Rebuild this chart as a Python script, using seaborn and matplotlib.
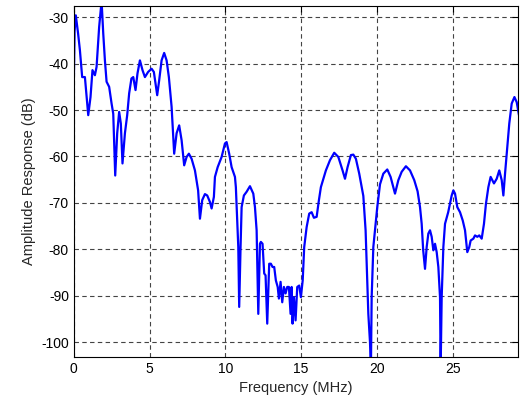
import seaborn as sns
import matplotlib.pyplot as plt
import pandas as pd

# frequency (MHz) and amplitude response (dB)
freq = [0.0, 0.05, 0.13, 0.28, 0.4, 0.55, 0.73, 0.95, 1.1, 1.23, 1.39, 1.5, 1.67, 1.83,
        1.94, 2.05, 2.16, 2.33, 2.49, 2.6, 2.73, 2.86, 2.99, 3.1, 3.21, 3.37, 3.52, 3.65,
        3.8, 3.92, 4.07, 4.2, 4.36, 4.53, 4.69, 4.9, 5.13, 5.28, 5.5, 5.63, 5.79, 5.96,
        6.12, 6.27, 6.45, 6.62, 6.78, 6.95, 7.11, 7.28, 7.44, 7.59, 7.77, 7.99, 8.2, 8.32,
        8.47, 8.65, 8.8, 8.98, 9.09, 9.24, 9.31, 9.49, 9.75, 9.97, 10.08, 10.25, 10.41,
        10.63, 10.69, 10.85, 10.91, 11.0, 11.07, 11.22, 11.4, 11.62, 11.84, 11.95, 12.06,
        12.17, 12.28, 12.34, 12.45, 12.56, 12.65, 12.76, 12.89, 13.0, 13.11, 13.22, 13.33,
        13.45, 13.53, 13.64, 13.75, 13.86, 13.97, 14.08, 14.19, 14.3, 14.37, 14.43, 14.52,
        14.63, 14.74, 14.87, 14.98, 15.1, 15.2, 15.36, 15.53, 15.69, 15.84, 16.02, 16.17,
        16.3, 16.63, 16.9, 17.18, 17.45, 17.73, 17.89, 18.06, 18.28, 18.44, 18.61, 18.83,
        19.1, 19.25, 19.43, 19.54, 19.6, 19.65, 19.76, 19.87, 20.02, 20.2, 20.42, 20.68,
        20.9, 21.19, 21.41, 21.63, 21.91, 22.18, 22.46, 22.68, 22.84, 22.95, 23.05, 23.17,
        23.28, 23.39, 23.5, 23.61, 23.72, 23.83, 23.94, 24.05, 24.16, 24.2, 24.27, 24.38,
        24.49, 24.7, 24.93, 25.04, 25.15, 25.3, 25.48, 25.66, 25.81, 25.96, 26.09, 26.18,
        26.36, 26.47, 26.62, 26.75, 26.91, 27.06, 27.19, 27.35, 27.5, 27.72, 27.9, 28.07,
        28.23, 28.34, 28.45, 28.56, 28.73, 28.89, 29.07, 29.22, 29.37]
amp = [-43.6, -33.0, -29.6, -33.5, -37.1, -42.9, -42.9, -51.1, -47.2, -41.4, -42.5, -40.7,
       -32.1, -26.5, -33.5, -39.3, -43.9, -45.0, -48.6, -50.8, -64.1, -55.0, -50.4, -52.9,
       -61.5, -55.0, -51.1, -46.4, -43.2, -42.9, -45.7, -42.1, -39.3, -41.4, -42.9, -41.8,
       -41.1, -41.8, -46.8, -43.6, -39.3, -37.7, -39.3, -42.9, -49.3, -59.4, -55.0, -53.3,
       -56.5, -61.9, -60.1, -59.4, -60.5, -63.0, -67.3, -73.4, -69.4, -68.1, -68.4, -69.8,
       -71.2, -68.7, -64.4, -62.3, -60.1, -57.2, -56.9, -59.4, -62.3, -64.4, -66.6, -79.5,
       -92.4, -79.5, -70.9, -68.4, -67.6, -66.4, -68.0, -70.9, -75.9, -93.9, -78.8, -78.4,
       -78.8, -85.2, -85.6, -96.0, -83.1, -83.1, -83.8, -83.8, -86.7, -88.1, -90.6, -87.0,
       -91.4, -88.1, -89.5, -88.1, -88.1, -93.9, -88.1, -96.0, -90.3, -95.3, -88.1, -87.8,
       -90.3, -86.7, -79.5, -75.2, -72.3, -72.0, -73.2, -73.0, -69.4, -66.6, -63.0, -60.8,
       -59.2, -60.1, -63.0, -64.8, -62.3, -59.7, -59.6, -60.5, -63.7, -68.5, -75.9, -93.9,
       -100.0, -106.0, -90.3, -79.5, -75.9, -70.9, -66.0, -63.7, -62.8, -64.4, -68.0, -65.1,
       -63.3, -62.1, -63.0, -65.1, -67.5, -70.9, -74.5, -80.2, -84.2, -79.5, -76.6, -75.9,
       -77.3, -80.2, -78.8, -80.6, -83.8, -90.3, -106.0, -90.3, -79.5, -74.5, -72.0, -68.4,
       -67.3, -68.0, -70.9, -72.0, -73.8, -75.9, -80.6, -79.5, -78.1, -77.7, -77.0, -77.3,
       -77.0, -77.7, -74.5, -70.2, -66.6, -64.4, -65.8, -64.8, -63.0, -65.1, -68.4, -63.7,
       -59.4, -52.9, -48.6, -47.2, -48.3, -51.1]

xticks = [0, 5, 10, 15, 20, 25]
yticks = [-30, -40, -50, -60, -70, -80, -90, -100]

df = pd.DataFrame({'freq': freq, 'amp': amp})

sns.set_style('white')
plt.rcParams['font.family'] = ['Liberation Sans', 'DejaVu Sans']
plt.rcParams['axes.unicode_minus'] = False

fig = plt.figure(figsize=(5.2, 4.03), dpi=100)
ax = fig.add_axes([0.142, 0.114, 0.854, 0.871])

sns.lineplot(data=df, x='freq', y='amp', color='#0000ff', linewidth=1.6, ax=ax, sort=False)

ax.set_xlim(0, 29.3)
ax.set_ylim(-103.2, -27.6)
ax.set_xticks(xticks)
ax.set_yticks(yticks)
ax.grid(True, color='#444444', linestyle=(0, (4, 3)), linewidth=0.8)
ax.tick_params(direction='in', top=True, right=True, length=4, labelsize=10,
               color='black', labelcolor='black')
for s in ax.spines.values():
    s.set_color('black')
    s.set_linewidth(0.8)
ax.set_xlabel('Frequency (MHz)', fontsize=10.5)
ax.set_ylabel('Amplitude Response (dB)', fontsize=10.5)

fig.savefig('out.png', dpi=100)
